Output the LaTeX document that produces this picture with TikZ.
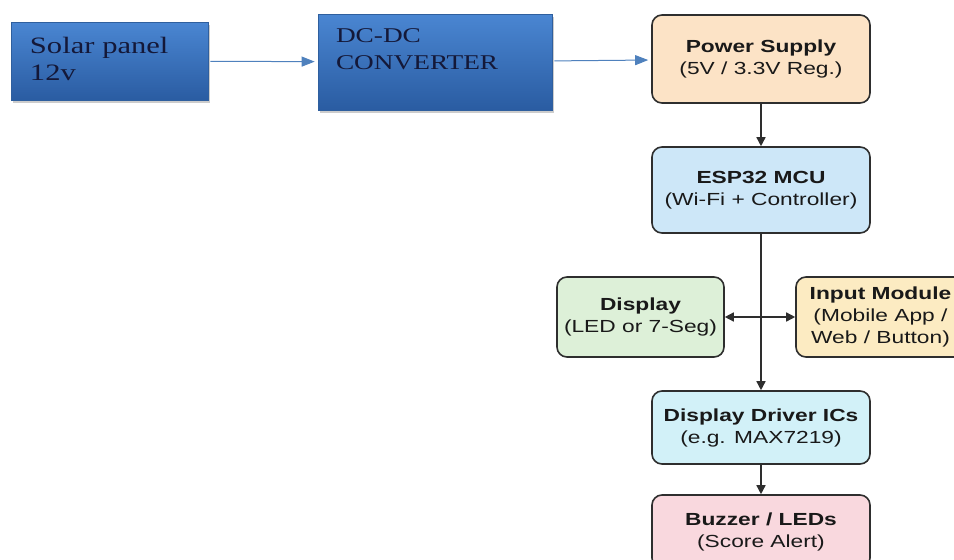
\documentclass[tikz,border=0pt]{standalone}
\usepackage{fontspec}
\usepackage{tikz}
\usetikzlibrary{positioning,arrows.meta,shadows}
\newfontfamily\panelfont{Liberation Serif}[FakeStretch=1.3]
\newfontfamily\blockfont{Liberation Sans}[FakeStretch=1.3]
\definecolor{bluetop}{HTML}{4A86D2}
\definecolor{bluebot}{HTML}{2A5CA2}
\definecolor{bluedge}{HTML}{2F5F9E}
\definecolor{bluearr}{HTML}{4F81BD}
\definecolor{paneltext}{HTML}{141838}
\definecolor{linegray}{HTML}{2E2E2E}
\definecolor{psfill}{HTML}{FCE3C6}
\definecolor{mcufill}{HTML}{CDE7F8}
\definecolor{dispfill}{HTML}{DDF0D8}
\definecolor{infill}{HTML}{FCEBC2}
\definecolor{drvfill}{HTML}{D2F1F8}
\definecolor{buzfill}{HTML}{F9D8DE}

\begin{document}
\begin{tikzpicture}[x=1pt,y=-1pt,
    panel/.style={draw=bluedge,line width=0.6pt,top color=bluetop,bottom color=bluebot,
      drop shadow={opacity=0.4,shadow xshift=2pt,shadow yshift=-3pt},
      text=paneltext,align=left,inner xsep=0pt},
    block/.style={draw=linegray,line width=1.6pt,rounded corners=10pt,align=center,
      minimum width=218pt,text=black!90,font=\blockfont\fontsize{17.5}{22}\selectfont},
    feed/.style={draw=bluearr,line width=1pt,-{Triangle[length=13pt,width=10pt]},shorten >=3pt,shorten <=2pt},
    flow/.style={draw=linegray,line width=1.5pt,-{Triangle[length=9pt,width=9pt]}},
    every node/.style={on grid}]
  \clip (0,0) rectangle (954,560);
  \node[panel,minimum width=197pt,minimum height=78pt,text width=159pt,text depth=32pt,
    font=\panelfont\fontsize{23.5}{27}\selectfont] (solar) at (109.5,61) {Solar panel\\12v};
  \node[panel,minimum width=234pt,minimum height=96pt,text width=198pt,text depth=53pt,
    font=\panelfont\fontsize{21}{27}\selectfont] (dcdc) at (435,62) {DC-DC\\CONVERTER};
  \node[block,fill=psfill,minimum height=88pt] (power) at (761,59)
    {{\bfseries Power Supply}\\(5V / 3.3V Reg.)};
  \node[block,fill=mcufill,minimum height=86pt,below=131pt of power] (mcu)
    {{\bfseries ESP32 MCU}\\(Wi-Fi + Controller)};
  \node[block,fill=dispfill,minimum width=167pt,minimum height=80pt,below left=127pt and 120.5pt of mcu] (display)
    {{\bfseries Display}\\(LED or 7-Seg)};
  \node[block,fill=infill,minimum width=169pt,minimum height=80pt,below right=127pt and 119.5pt of mcu] (input)
    {{\bfseries Input Module}\\(Mobile App /\\Web / Button)};
  \node[block,fill=drvfill,minimum height=73pt,below=237.5pt of mcu] (driver)
    {{\bfseries Display Driver ICs}\\(e.g. MAX7219)};
  \node[block,fill=buzfill,minimum height=73pt,below=104pt of driver] (buzzer)
    {{\bfseries Buzzer / LEDs}\\(Score Alert)};
  \draw[feed] (solar) -- (dcdc);
  \draw[feed] (dcdc) -- (power);
  \draw[flow] (power) -- (mcu);
  \draw[flow] (mcu) -- (driver);
  \draw[flow,{Triangle[length=9pt,width=9pt]}-{Triangle[length=9pt,width=9pt]}] (display) -- (input);
  \draw[flow] (driver) -- (buzzer);
\end{tikzpicture}
\end{document}
